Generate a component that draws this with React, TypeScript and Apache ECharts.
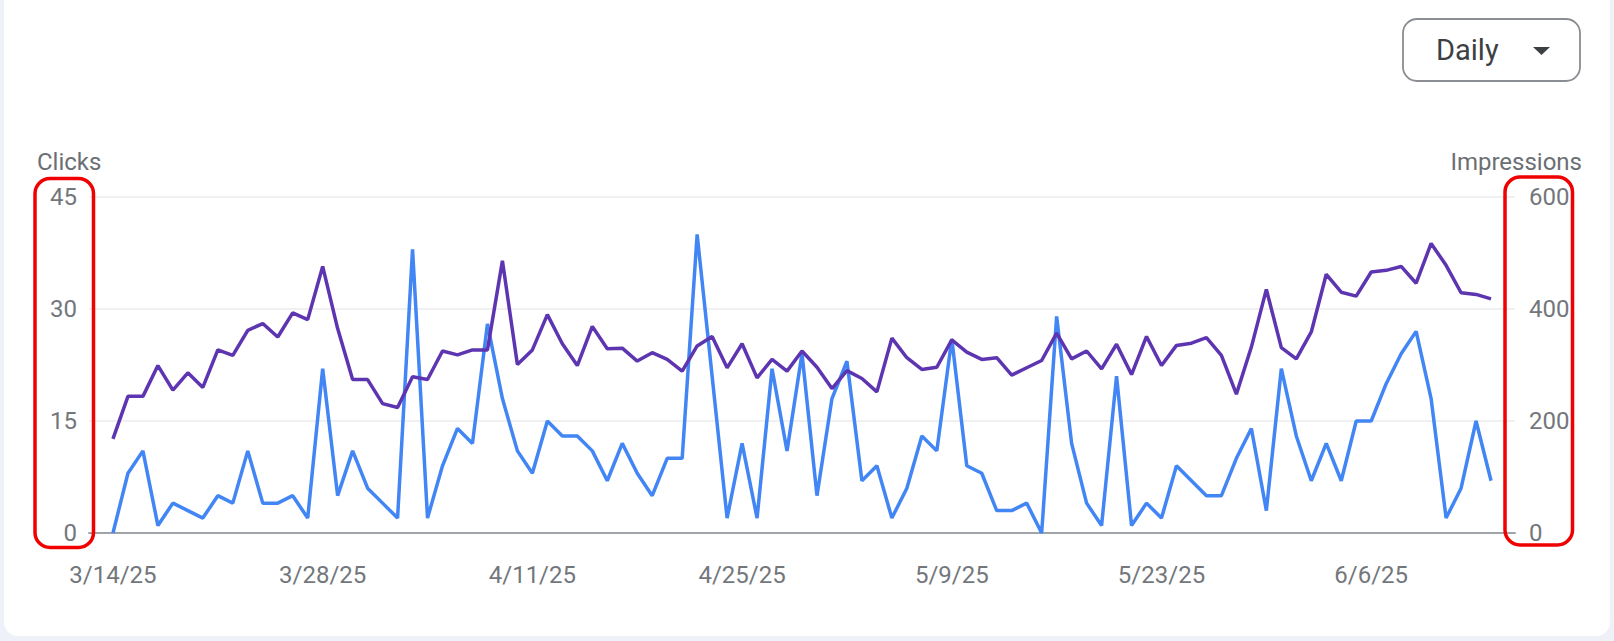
import React, { useEffect, useRef } from "react";
import * as echarts from "echarts";

// Daily dates from 3/14/25 to 6/14/25
const START = { y: 2025, m: 2, d: 14 };
const DAY_COUNT = 93;
const dates: string[] = [];
for (let i = 0; i < DAY_COUNT; i++) {
  const dt = new Date(START.y, START.m, START.d + i);
  dates.push(`${dt.getMonth() + 1}/${dt.getDate()}/${String(dt.getFullYear()).slice(2)}`);
}

const xTickLabels = ["3/14/25", "3/28/25", "4/11/25", "4/25/25", "5/9/25", "5/23/25", "6/6/25"];

const clicks = [
  0, 8, 11, 1, 4, 3, 2, 5, 4, 11, 4, 4, 5, 2, 22, 5, 11, 6, 4, 2, 38,
  2, 9, 14, 12, 28, 18, 11, 8, 15, 13, 13, 11, 7, 12, 8, 5, 10, 10, 40, 21, 2, 12, 2, 22, 11, 24, 5,
  18, 23, 7, 9, 2, 6, 13, 11, 26, 9, 8, 3, 3, 4, 0, 29, 12, 4, 1, 21, 1, 4, 2, 9, 7, 5, 5,
  10, 14, 3, 22, 13, 7, 12, 7, 15, 15, 20, 24, 27, 18, 2, 6, 15, 7,
];

const impressions = [
  168, 244, 244, 299, 255, 286, 260, 327, 317, 362, 374, 350, 393, 381, 476, 365, 274, 274, 231, 224, 279,
  274, 325, 318, 327, 327, 486, 301, 327, 390, 338, 299, 369, 329, 330, 307, 322, 310, 289, 334, 351, 295, 338, 277, 310, 289, 325, 296,
  258, 290, 276, 252, 348, 313, 292, 296, 345, 323, 310, 313, 282, 295, 308, 357, 311, 325, 293, 337, 283, 351, 299, 335, 339, 349, 317,
  248, 332, 435, 331, 311, 359, 462, 430, 423, 466, 469, 476, 446, 517, 478, 429, 426, 418,
];

const clicksTicks = { min: 0, max: 45, interval: 15 };
const impressionsTicks = { min: 0, max: 600, interval: 200 };

const FONT = "Roboto, 'Noto Sans', sans-serif";
const LABEL_COLOR = "#73777c";

export default function App() {
  const ref = useRef<HTMLDivElement>(null);

  useEffect(() => {
    if (!ref.current) return;
    document.body.style.margin = "0";
    const chart = echarts.init(ref.current, undefined, { renderer: "svg" });
    const tickIdx = xTickLabels.map((t) => dates.indexOf(t));

    chart.setOption({
      animation: false,
      backgroundColor: "#eff1f9",
      textStyle: { fontFamily: FONT },
      grid: { left: 89, right: 99, top: 197, bottom: 108 },
      xAxis: {
        type: "value",
        min: -1.6,
        max: DAY_COUNT - 1 + 1.6,
        splitLine: { show: false },
        axisTick: { show: false },
        axisLine: { show: true, lineStyle: { color: "#a0a4a8", width: 2 } },
        axisLabel: {
          customValues: tickIdx,
          formatter: (v: number) => dates[Math.round(v)] ?? "",
          color: LABEL_COLOR,
          fontSize: 24,
          fontFamily: FONT,
          margin: 30,
        },
      },
      yAxis: [
        {
          type: "value",
          ...clicksTicks,
          position: "left",
          axisLine: { show: false },
          axisTick: { show: false },
          splitLine: { show: true, lineStyle: { color: "#ebebeb", width: 1.5 } },
          axisLabel: { color: LABEL_COLOR, fontSize: 24, fontFamily: FONT, margin: 12 },
        },
        {
          type: "value",
          ...impressionsTicks,
          position: "right",
          axisLine: { show: false },
          axisTick: { show: false },
          splitLine: { show: false },
          axisLabel: { color: LABEL_COLOR, fontSize: 24, fontFamily: FONT, margin: 14 },
        },
      ],
      series: [
        {
          name: "Clicks",
          type: "line",
          yAxisIndex: 0,
          data: clicks.map((v, i) => [i, v]),
          symbol: "none",
          lineStyle: { color: "#4285f4", width: 3.5 },
          itemStyle: { color: "#4285f4" },
          z: 3,
        },
        {
          name: "Impressions",
          type: "line",
          yAxisIndex: 1,
          data: impressions.map((v, i) => [i, v]),
          symbol: "none",
          lineStyle: { color: "#5e35b1", width: 3.5 },
          itemStyle: { color: "#5e35b1" },
          z: 4,
        },
      ],
      graphic: [
        {
          type: "rect",
          z: -10,
          silent: true,
          shape: { x: 4, y: -30, width: 1606, height: 666, r: 14 },
          style: { fill: "#ffffff" },
        },
        {
          type: "text",
          left: 37,
          top: 150,
          style: { text: "Clicks", fill: "#6b6f74", font: `24px ${FONT}` },
        },
        {
          type: "text",
          right: 32,
          top: 150,
          style: { text: "Impressions", fill: "#6b6f74", font: `24px ${FONT}` },
        },
        {
          type: "rect",
          z: 50,
          shape: { x: 1403, y: 19, width: 177, height: 62, r: 14 },
          style: { fill: "#ffffff", stroke: "#8a8d91", lineWidth: 1.8 },
        },
        {
          type: "text",
          z: 51,
          x: 1436,
          y: 50,
          style: {
            text: "Daily",
            fill: "#3c4043",
            font: `400 29px ${FONT}`,
            verticalAlign: "middle",
            align: "left",
          },
        },
        {
          type: "polygon",
          z: 51,
          shape: { points: [[1533, 47], [1550, 47], [1541.5, 55]] },
          style: { fill: "#3c4043" },
        },
        {
          type: "rect",
          z: 100,
          shape: { x: 35, y: 178.5, width: 58.5, height: 369, r: 15 },
          style: { fill: "none", stroke: "#f00000", lineWidth: 3.5 },
        },
        {
          type: "rect",
          z: 100,
          shape: { x: 1505, y: 177, width: 67.5, height: 368, r: 15 },
          style: { fill: "none", stroke: "#f00000", lineWidth: 3.5 },
        },
      ],
    });

    return () => chart.dispose();
  }, []);

  return (
    <div
      ref={ref}
      style={{ position: "absolute", left: 0, top: 0, width: 1614, height: 641 }}
    />
  );
}
